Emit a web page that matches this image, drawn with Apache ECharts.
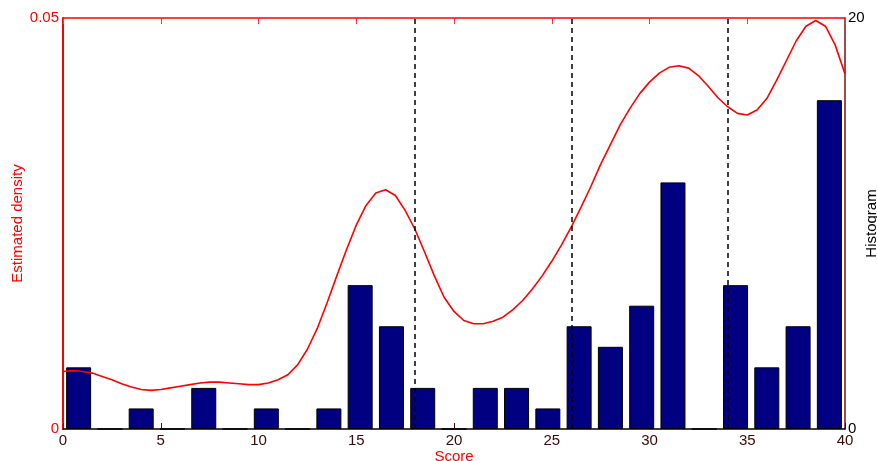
<!DOCTYPE html>
<html>
<head>
<meta charset="utf-8">
<script src="https://cdn.jsdelivr.net/npm/echarts@6/dist/echarts.min.js"></script>
<style>html,body{margin:0;padding:0;background:#fff;}#c{width:877px;height:461px;}</style>
</head>
<body>
<div id="c"></div>
<script>
// Histogram bins (centers) and counts
const binCenters = [0.8,2.4,4.0,5.6,7.2,8.8,10.4,12.0,13.6,15.2,16.8,18.4,20.0,21.6,23.2,24.8,26.4,28.0,29.6,31.2,32.8,34.4,36.0,37.6,39.2];
const binCounts  = [3,0,1,0,2,0,1,0,1,7,5,2,0,2,2,1,5,4,6,12,0,7,3,5,16];

// Estimated density curve
const densityX = [0,0.5,1,1.5,2,2.5,3,3.5,4,4.5,5,5.5,6,6.5,7,7.5,8,8.5,9,9.5,10,10.5,11,11.5,12,12.5,13,13.5,14,14.5,15,15.5,16,16.5,17,17.5,18,18.5,19,19.5,20,20.5,21,21.5,22,22.5,23,23.5,24,24.5,25,25.5,26,26.5,27,27.5,28,28.5,29,29.5,30,30.5,31,31.5,32,32.5,33,33.5,34,34.5,35,35.5,36,36.5,37,37.5,38,38.5,39,39.5,40];
const densityY = [0.0070,0.0071,0.0070,0.0068,0.0064,0.0060,0.0055,0.0051,0.0048,0.0047,0.0048,0.0050,0.0052,0.0054,0.0056,0.0057,0.0057,0.0056,0.0055,0.0054,0.0054,0.0056,0.0060,0.0066,0.0078,0.0097,0.0122,0.0153,0.0186,0.0218,0.0248,0.0272,0.0287,0.0291,0.0284,0.0266,0.0243,0.0215,0.0186,0.0160,0.0143,0.0132,0.0128,0.0128,0.0131,0.0136,0.0145,0.0156,0.0170,0.0186,0.0204,0.0224,0.0246,0.0270,0.0295,0.0322,0.0346,0.0370,0.0390,0.0408,0.0422,0.0433,0.0440,0.0442,0.0439,0.0430,0.0417,0.0403,0.0392,0.0384,0.0382,0.0388,0.0402,0.0424,0.0448,0.0472,0.0490,0.0497,0.0490,0.0467,0.0432];

// Dashed vertical markers
const cutPoints = [18, 26, 34];

// Axis ticks
const xTicks = [0,5,10,15,20,25,30,35,40];
const densityTicks = [0, 0.05];
const histTicks = [0, 20];

const font = '"Liberation Sans", Arial, Helvetica, sans-serif';
const chart = echarts.init(document.getElementById('c'));

chart.setOption({
  animation: false,
  backgroundColor: '#fff',
  grid: {left: 63, right: 32, top: 18, bottom: 32, containLabel: false, outerBoundsMode: 'none'},
  xAxis: [
    {
      type: 'value', min: xTicks[0], max: xTicks[xTicks.length-1], interval: 5, position: 'bottom',
      name: 'Score', nameLocation: 'middle', nameGap: 20.5, nameMoveOverlap: false,
      nameTextStyle: {color: '#ff0000', fontSize: 15, fontFamily: font},
      axisLine: {show: true, onZero: false, lineStyle: {color: '#000', width: 1.5}},
      axisTick: {show: true, inside: true, length: 6, lineStyle: {color: '#4a0a0a'}},
      axisLabel: {color: '#3a0808', fontSize: 15, fontFamily: font, margin: 4},
      splitLine: {show: false}
    },
    {
      type: 'value', min: xTicks[0], max: xTicks[xTicks.length-1], interval: 5, position: 'top',
      axisLine: {show: true, onZero: false, lineStyle: {color: '#ff0000', width: 1.5}},
      axisTick: {show: true, inside: true, length: 6, lineStyle: {color: '#ff3333'}},
      axisLabel: {show: false},
      splitLine: {show: false}
    }
  ],
  yAxis: [
    {
      type: 'value', min: densityTicks[0], max: densityTicks[1], interval: 0.05, position: 'left',
      name: 'Estimated density', nameLocation: 'middle', nameGap: 37.5, nameMoveOverlap: false,
      nameTextStyle: {color: '#ff0000', fontSize: 15, fontFamily: font},
      axisLine: {show: true, onZero: false, lineStyle: {color: '#ff0000', width: 2}},
      axisTick: {show: false},
      axisLabel: {color: '#ff0000', fontSize: 15, fontFamily: font, margin: 4,
        formatter: v => (v === 0 ? '0' : String(v))},
      splitLine: {show: false}
    },
    {
      type: 'value', min: histTicks[0], max: histTicks[1], interval: 20, position: 'right',
      name: 'Histogram', nameLocation: 'middle', nameGap: 19.5, nameRotate: 90, nameMoveOverlap: false,
      nameTextStyle: {color: '#000', fontSize: 15, fontFamily: font},
      axisLine: {show: true, onZero: false, lineStyle: {color: '#7a1010', width: 1.5}},
      axisTick: {show: false},
      axisLabel: {color: '#000', fontSize: 15, fontFamily: font, margin: 3},
      splitLine: {show: false}
    }
  ],
  series: [
    {
      type: 'bar', xAxisIndex: 0, yAxisIndex: 1,
      data: binCenters.map((c, i) => [c, binCounts[i]]),
      barWidth: 25,
      itemStyle: {color: '#000080', borderColor: '#000', borderWidth: 1},
      z: 2
    },
    {
      type: 'line', xAxisIndex: 0, yAxisIndex: 0,
      data: densityX.map((x, i) => [x, densityY[i]]),
      showSymbol: false, symbol: 'none', smooth: false,
      lineStyle: {color: '#ff0000', width: 1.6},
      z: 4,
      markLine: {
        silent: true, symbol: 'none', label: {show: false},
        lineStyle: {color: '#000', type: [5, 4], width: 1.5},
        data: cutPoints.map(v => ({xAxis: v}))
      }
    }
  ]
});
</script>
</body>
</html>
